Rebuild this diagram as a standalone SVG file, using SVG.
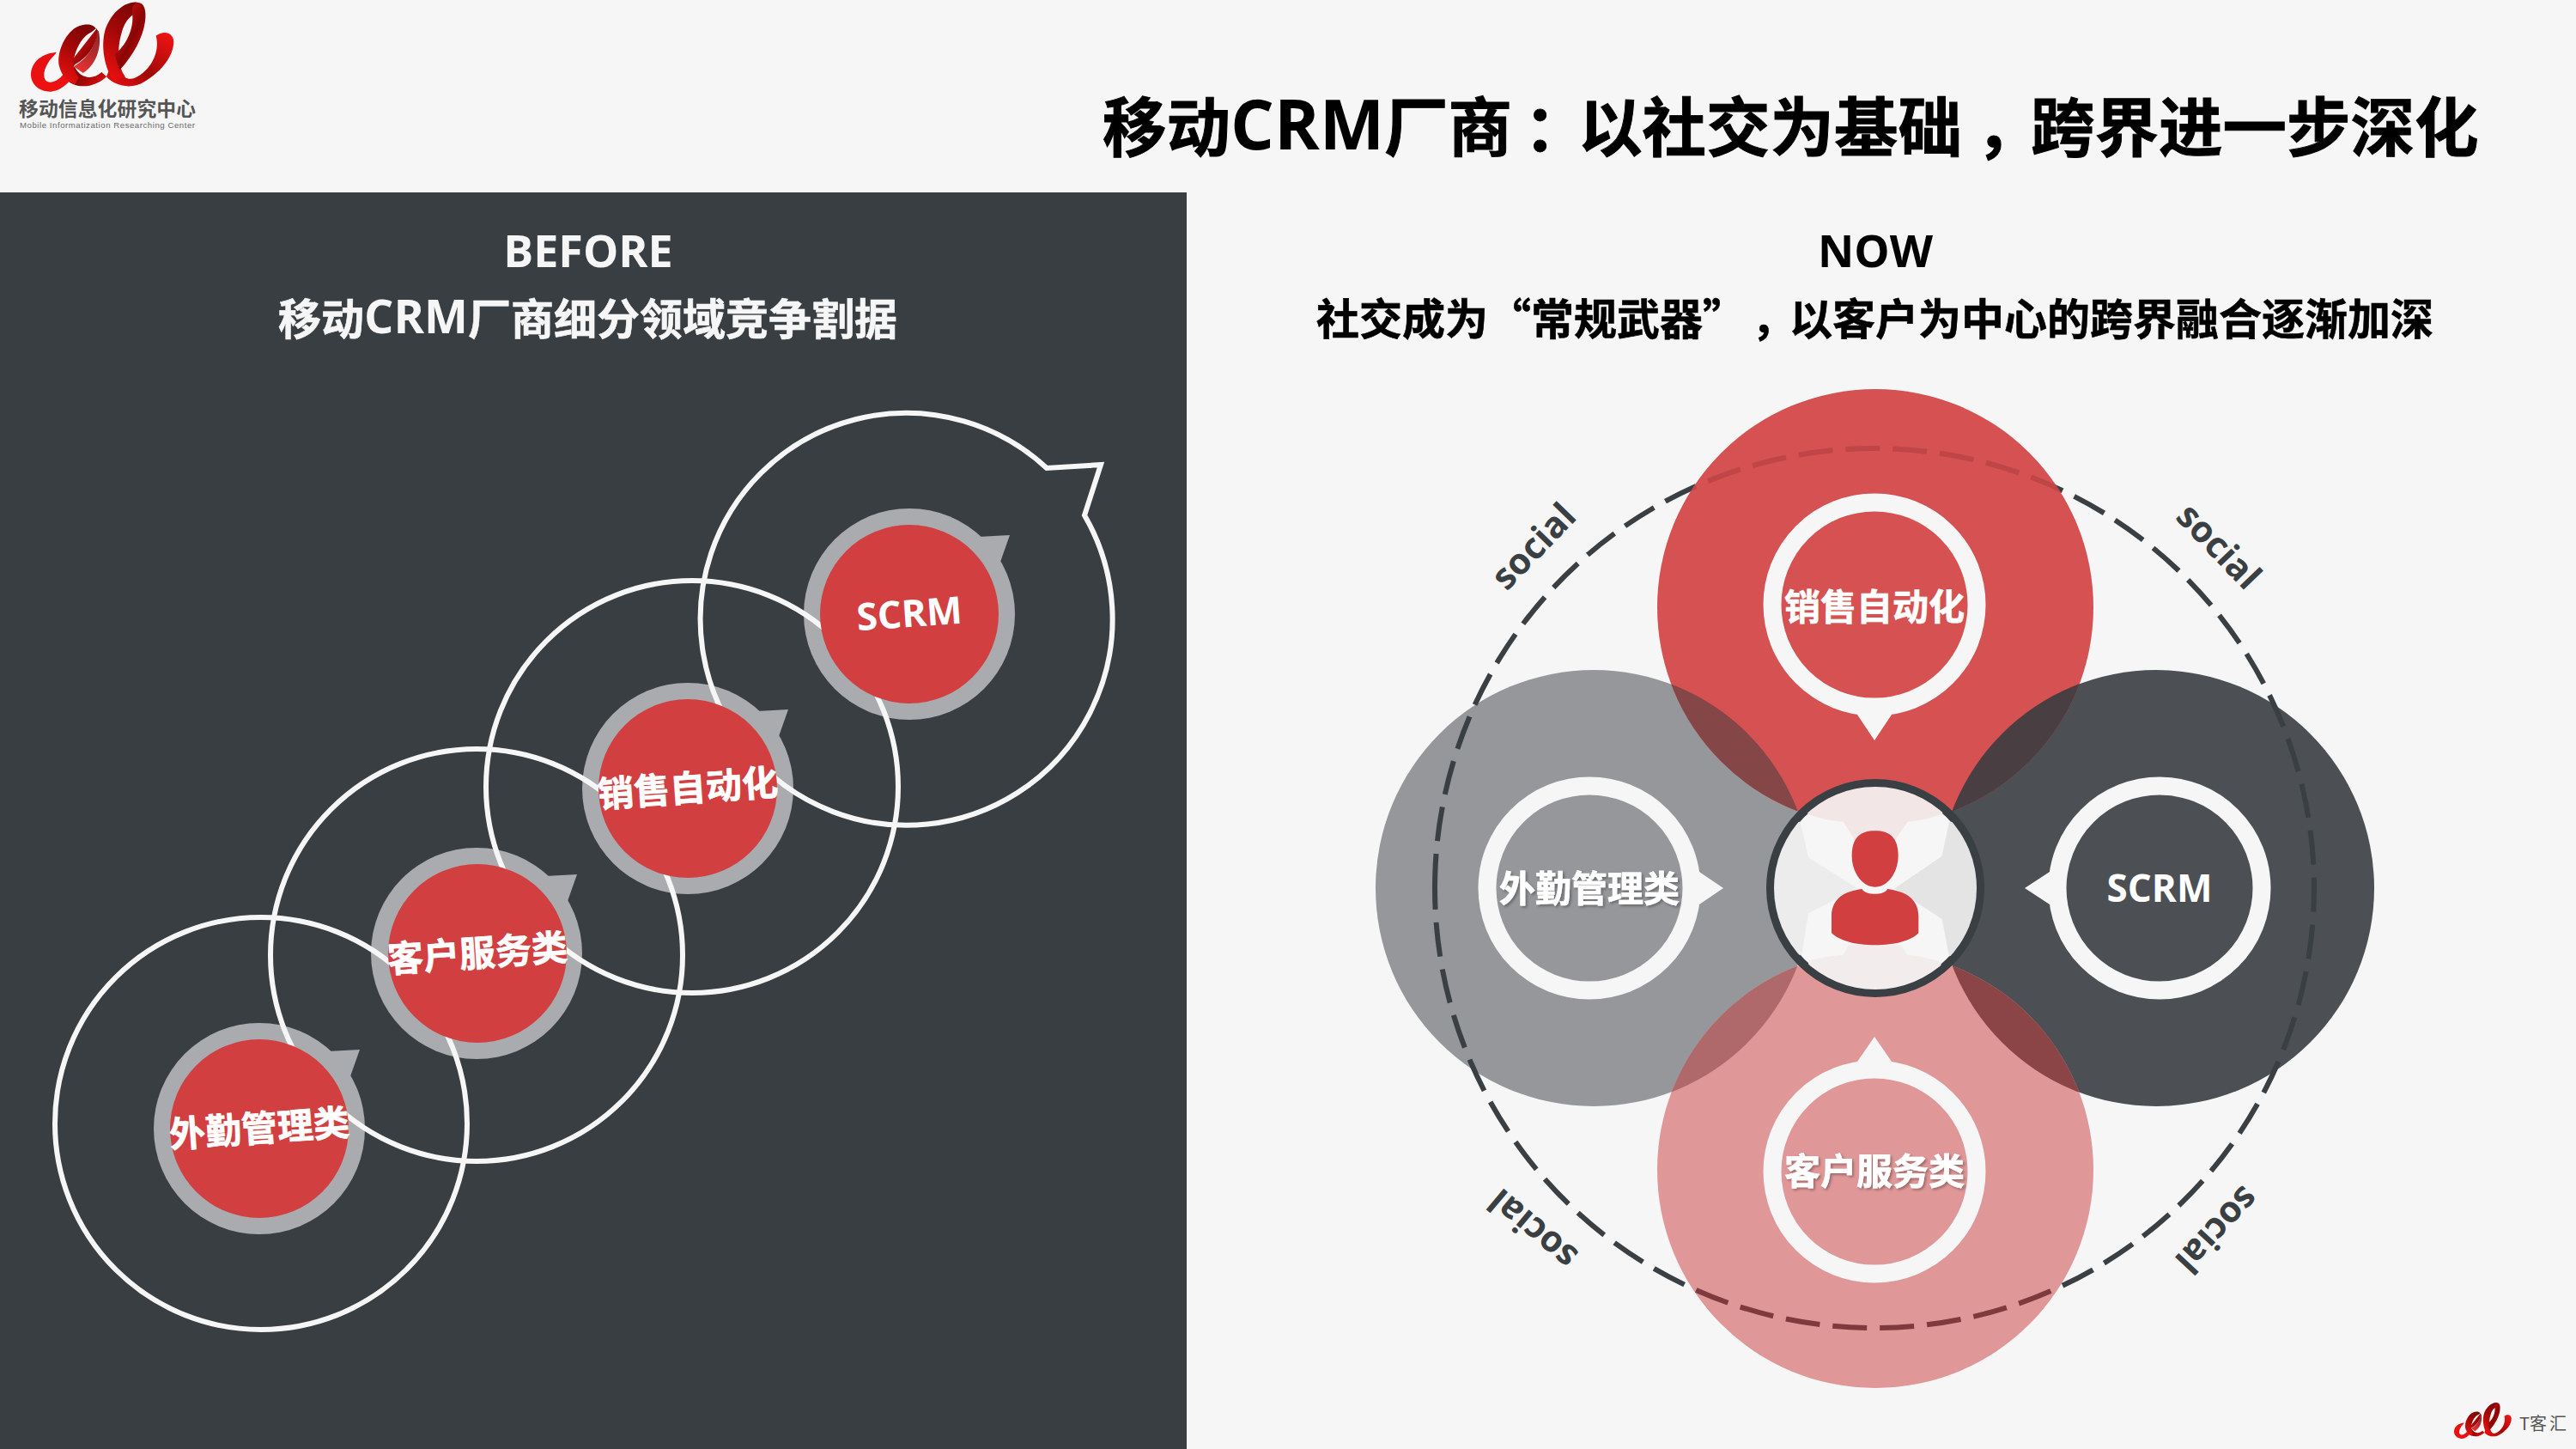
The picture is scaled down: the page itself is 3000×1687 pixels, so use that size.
<svg xmlns="http://www.w3.org/2000/svg" width="3000" height="1687" viewBox="0 0 3000 1687">
<style>
text{font-family:"Noto Sans CJK SC","Open Sans",sans-serif;font-weight:700;text-spacing-trim:space-all}
.lat{font-family:"Open Sans","Noto Sans CJK SC",sans-serif;font-weight:700;stroke:none}
.lab{font-size:42px;fill:#fff;text-anchor:middle;stroke:#fff;stroke-width:.7}
.latlab{font-family:"Open Sans",sans-serif;font-size:44px;fill:#fff;text-anchor:middle}
.soc{font-family:"Open Sans",sans-serif;font-size:42px;fill:#3a3f43;text-anchor:middle}
.ring{fill:none;stroke:#f6f6f6;stroke-width:6}
.gd{fill:#a9abae}
.rd{fill:#d23f41}
.ir{fill:none;stroke:#f6f6f6;stroke-width:21}
.tl{fill:#f6f6f6}
.dash{fill:none;stroke-width:6;stroke-dasharray:40 15.03}
</style>
<defs>
<linearGradient id="gA" x1="0" y1="0" x2="0" y2="1"><stop offset="0" stop-color="#e81010"/><stop offset="1" stop-color="#ee1111"/></linearGradient>
<linearGradient id="gB" x1="0.7" y1="0" x2="0.3" y2="1"><stop offset="0" stop-color="#7c0505"/><stop offset="0.45" stop-color="#a30808"/><stop offset="1" stop-color="#e81010"/></linearGradient>
<linearGradient id="gC" x1="0" y1="0" x2="1" y2="1"><stop offset="0" stop-color="#f01414"/><stop offset="0.55" stop-color="#8a0505"/><stop offset="1" stop-color="#e21010"/></linearGradient>
<linearGradient id="gD" x1="0.2" y1="1" x2="0.9" y2="0"><stop offset="0" stop-color="#e00e0e"/><stop offset="0.35" stop-color="#a00808"/><stop offset="1" stop-color="#f01414"/></linearGradient>
<path id="ringpath" d="M1671,1034A512,512 0 1 1 2695,1034A512,512 0 1 1 1671,1034"/>
<g id="ee">
<path fill="url(#gD)" d="M372,268C400,300 460,315 505,285C565,250 607,195 607,145C605,115 575,103 545,125C557,170 540,225 490,262C465,280 435,285 420,245L385,235Z"/>
<path fill="url(#gC)" d="M338,100C345,135 320,195 262,225L228,275C262,310 325,312 372,268L355,252C325,280 280,275 262,235L240,225Z"/>
<path fill="url(#gA)" d="M197,183C150,185 108,215 108,262C110,305 150,322 178,320C205,318 228,300 243,283L222,258C205,282 180,292 165,285C150,278 150,250 165,225C175,205 190,195 197,183Z"/>
<path fill="url(#gB)" d="M335,100C325,80 280,80 250,108C215,140 197,200 208,235C215,262 235,285 262,295L275,270C260,255 250,225 262,190C272,160 290,125 320,112Z"/>
<path fill="url(#gB)" d="M335,98C345,135 320,195 258,232L290,255C345,220 355,150 345,110Z" opacity="0.85"/>
<path fill="url(#gB)" d="M478,8C430,5 380,55 365,115C352,175 370,250 400,285L438,268C412,235 408,170 425,115C435,80 450,50 500,35Z"/>
<path fill="url(#gC)" d="M478,8C505,8 512,35 507,75C500,130 465,195 418,245L400,190C440,160 470,100 462,45C460,30 465,15 478,8Z"/>
</g>
<clipPath id="cTop"><circle cx="2184" cy="707" r="254"/></clipPath>
<clipPath id="cBot"><circle cx="2184" cy="1362" r="254"/></clipPath>
<clipPath id="cHub"><circle cx="2184" cy="1034" r="118"/></clipPath>
<filter id="sh" x="-10%" y="-20%" width="120%" height="150%"><feDropShadow dx="2" dy="2" stdDeviation="1.5" flood-color="#000" flood-opacity="0.3"/></filter>
</defs>

<rect width="3000" height="1687" fill="#f6f6f6"/>
<rect x="0" y="224" width="1382" height="1463" fill="#393e42"/>

<g id="logo">
<use href="#ee" transform="scale(0.3333)"/>
<text x="22" y="135" font-size="22.8" fill="#555" textLength="206">移动信息化研究中心</text>
<text x="23" y="149" font-size="9.6" fill="#666" style="font-family:'Liberation Sans',sans-serif;font-weight:400" textLength="204">Mobile  Informatization Researching Center</text>
</g>
<g id="logo-small">
<use href="#ee" transform="translate(2843.5 1632) scale(0.134)"/>
<text x="2934" y="1665" font-size="20" fill="#555" style="font-weight:400">T</text>
<text x="2946" y="1665" font-size="20" fill="#555" style="font-weight:400" letter-spacing="3">客汇</text>
</g>

<text id="title" y="176" font-size="74.5" fill="#000" stroke="#000" stroke-width=".9"><tspan x="1284">移动</tspan><tspan class="lat" x="1433" y="174" font-size="80">CRM</tspan><tspan x="1612" y="176">厂商</tspan><tspan x="1775">：</tspan><tspan x="1838">以社交为基础</tspan><tspan x="2301">，</tspan><tspan x="2365">跨界进一步深化</tspan></text>
<text id="before" class="lat" x="685" y="311" font-size="52" fill="#f6f6f6" text-anchor="middle">BEFORE</text>
<text id="before-sub" y="390" font-size="50" fill="#f6f6f6" stroke="#f6f6f6" stroke-width=".6"><tspan x="324">移动</tspan><tspan class="lat" font-size="54" y="388">CRM</tspan><tspan y="390">厂商细分领域竞争割据</tspan></text>
<text id="now" class="lat" x="2184" y="311" font-size="52" fill="#000" text-anchor="middle">NOW</text>
<text id="now-sub" y="390" font-size="50" fill="#000" stroke="#000" stroke-width=".6"><tspan x="1533">社交成为“常规武器”</tspan><tspan x="2040">，</tspan><tspan x="2084">以客户为中心的跨界融合逐渐加深</tspan></text>

<g id="before-discs">
<g id="disc-scrm" transform="translate(1059 715)"><circle class="gd" r="123"/><path class="gd" d="M80,-90L117,-92L105,-58Z"/></g>
<g id="disc-sales" transform="translate(801 918)"><circle class="gd" r="123"/><path class="gd" d="M80,-90L117,-92L105,-58Z"/></g>
<g id="disc-service" transform="translate(555 1110)"><circle class="gd" r="123"/><path class="gd" d="M80,-90L117,-92L105,-58Z"/></g>
<g id="disc-field" transform="translate(302 1314)"><circle class="gd" r="123"/><path class="gd" d="M80,-90L117,-92L105,-58Z"/></g>
</g>
<g id="connectors">
<path class="ring" d="M1263,600A240,240 0 1 1 1219,545L1282,541Z"/>
<circle class="ring" cx="806" cy="916" r="240"/>
<circle class="ring" cx="555" cy="1112" r="240"/>
<circle class="ring" cx="304" cy="1308" r="240"/>
</g>
<g id="before-labels">
<g transform="translate(1059 715)"><circle class="rd" r="104"/><text class="latlab" transform="rotate(-4)" y="15">SCRM</text></g>
<g transform="translate(801 918)"><circle class="rd" r="104"/><text class="lab" transform="rotate(-4)" y="15">销售自动化</text></g>
<g transform="translate(556 1110)"><circle class="rd" r="104"/><text class="lab" transform="rotate(-4)" y="15">客户服务类</text></g>
<g transform="translate(302 1314)"><circle class="rd" r="104"/><text class="lab" transform="rotate(-4)" y="15">外勤管理类</text></g>
</g>

<g id="now-gray"><circle cx="1856" cy="1034" r="254" fill="#95979a"/></g>
<g id="now-dark"><circle cx="2511" cy="1034" r="254" fill="#4c5054"/></g>
<g id="social-ring"><use href="#ringpath" class="dash" stroke="#3a3f43"/></g>
<g id="now-top">
<circle cx="2184" cy="707" r="254" fill="#d55152"/>
<g clip-path="url(#cTop)">
<circle cx="1856" cy="1034" r="254" fill="#854648"/>
<circle cx="2511" cy="1034" r="254" fill="#493f42"/>
<use href="#ringpath" class="dash" stroke="#bf4547"/>
</g>
<circle class="ir" cx="2183" cy="704" r="119"/>
<path class="tl" d="M2163,832L2183,862L2203,832Z"/>
<text class="lab" x="2183" y="722">销售自动化</text>
</g>
<g id="now-bottom">
<circle cx="2184" cy="1362" r="254" fill="#e09798"/>
<g clip-path="url(#cBot)">
<circle cx="1856" cy="1034" r="254" fill="#b0696b"/>
<circle cx="2511" cy="1034" r="254" fill="#8b4547"/>
<use href="#ringpath" class="dash" stroke="#7e3a3c"/>
</g>
<circle class="ir" cx="2183" cy="1364" r="119"/>
<path class="tl" d="M2163,1236L2183,1207L2203,1236Z"/>
<text class="lab" x="2183" y="1379" filter="url(#sh)">客户服务类</text>
</g>
<g id="now-left">
<circle class="ir" cx="1851" cy="1034" r="119"/>
<path class="tl" d="M1979,1015L2007,1034L1979,1053Z"/>
<text class="lab" x="1851" y="1050" filter="url(#sh)">外勤管理类</text>
</g>
<g id="now-right">
<circle class="ir" cx="2515" cy="1034" r="119"/>
<path class="tl" d="M2387,1015L2358,1034L2387,1053Z"/>
<text class="latlab" x="2515" y="1050">SCRM</text>
</g>
<g id="hub">
<circle cx="2184" cy="1034" r="122" fill="#f6f6f6" stroke="#3a3f43" stroke-width="10"/>
<g clip-path="url(#cHub)">
<g transform="translate(1950 850) scale(0.3333)">
<path fill="#f3e6e6" d="M450,280L470,295C510,310 550,318 590,320L640,400L760,400L815,320C850,318 890,310 930,295L950,280L950,180L450,180Z"/>
<path fill="#ececec" d="M440,320L468,445L640,553L468,640L445,785L330,790L330,320Z"/>
<path fill="#e4e4e4" d="M960,320L935,440L770,553L935,660L960,790L1070,790L1070,320Z"/>
<path fill="#f3ecec" d="M470,805C510,795 550,788 590,785L610,750L790,750L815,785C850,788 890,795 930,810L950,920L450,920Z"/>
</g>
</g>
<g transform="translate(1950 850) scale(0.3333)" fill="#d23f41">
<path d="M701,352C650,352 620,375 620,440C620,495 655,548 701,548C747,548 782,495 782,440C782,375 752,352 701,352Z"/>
<path d="M655,555C665,570 685,572 701,572C717,572 735,570 745,555C800,562 853,585 853,650L853,708C830,735 770,751 701,751C632,751 575,735 549,708L549,650C549,585 600,562 655,555Z"/>
</g>
</g>
<g id="social-labels">
<text class="soc" transform="translate(1787 637) rotate(-46)" y="13">social</text>
<text class="soc" transform="translate(2583 637) rotate(46)" y="13">social</text>
<text class="soc" transform="translate(1786 1430) rotate(220)" y="13">social</text>
<text class="soc" transform="translate(2581 1431) rotate(133)" y="13">social</text>
</g>
</svg>
